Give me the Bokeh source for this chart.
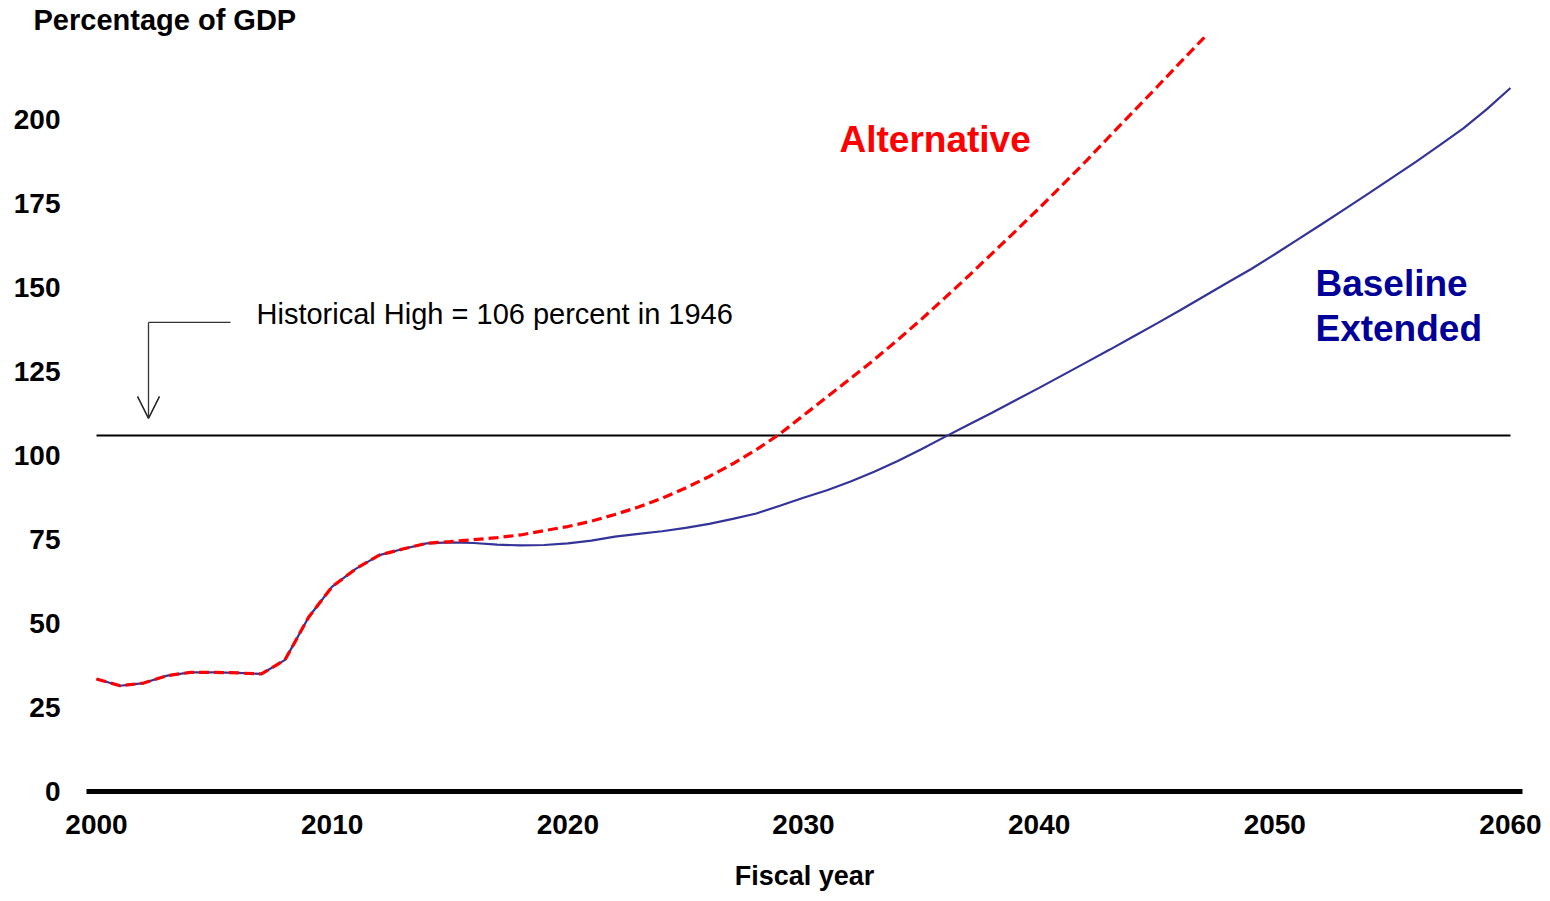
from bokeh.plotting import figure
from bokeh.models import FixedTicker, Label, Arrow, OpenHead, Range1d
from bokeh.embed import file_html
from bokeh.resources import INLINE

# ---------------- data ----------------
years = list(range(2000, 2061))
baseline = [33.5, 31.5, 32.3, 34.5, 35.5, 35.5, 35.3, 35.0, 39.2, 51.9,
            61.0, 66.3, 70.4, 72.2, 73.9, 74.2, 74.0, 73.5, 73.3, 73.4,
            73.9, 74.7, 75.9, 76.7, 77.5, 78.5, 79.7, 81.2, 82.8, 85.1,
            87.5, 89.7, 92.3, 95.2, 98.4, 101.9, 105.6, 109.2, 112.8, 116.5,
            120.2, 124.0, 127.8, 131.6, 135.5, 139.4, 143.4, 147.5, 151.6, 155.6,
            160.0, 164.5, 169.0, 173.6, 178.2, 182.9, 187.6, 192.5, 197.5, 203.2,
            209.5]
alt_years = list(range(2000, 2050))
alternative = [33.5, 31.5, 32.3, 34.5, 35.5, 35.5, 35.3, 35.0, 39.2, 51.9,
               61.0, 66.3, 70.4, 72.2, 73.9, 74.4, 75.0, 75.6, 76.4, 77.7,
               78.9, 80.5, 82.5, 84.7, 87.3, 90.4, 93.8, 97.6, 101.8, 106.5,
               112.0, 117.5, 123.0, 128.6, 134.5, 140.6, 147.0, 153.5, 160.2, 166.9,
               173.7, 180.7, 187.8, 195.2, 202.5, 209.8, 217.2, 224.5, 231.9, 239.3]
hist_high = 106
x_ticks = [2000, 2010, 2020, 2030, 2040, 2050, 2060]
y_ticks = [0, 25, 50, 75, 100, 125, 150, 175, 200]

FONT = "Liberation Sans"

# ---------------- figure ----------------
W, H = 1542, 893
TOP, BOTTOM, LEFT, RIGHT = 36, 102, 86, 20
PX_PER_UNIT = 3.358
frame_h = H - TOP - BOTTOM
p = figure(width=W, height=H, output_backend="svg", toolbar_location=None,
           x_range=Range1d(1999.576, 2060.51),
           y_range=Range1d(0, frame_h / PX_PER_UNIT),
           min_border_left=LEFT, min_border_right=RIGHT, min_border_top=TOP,
           min_border_bottom=BOTTOM, background_fill_color="white",
           border_fill_color="white")
p.outline_line_color = None
p.xgrid.visible = False
p.ygrid.visible = False

# title (y-axis unit)
p.title.text = "Percentage of GDP"
p.title.align = "left"
p.title.offset = -53
p.title.standoff = 2
p.title.text_font = FONT
p.title.text_font_style = "bold"
p.title.text_font_size = "29px"
p.title.text_color = "black"

# x axis
xa = p.xaxis[0]
xa.ticker = FixedTicker(ticks=x_ticks)
xa.axis_line_color = "black"
xa.axis_line_width = 5
xa.major_tick_line_color = None
xa.minor_tick_line_color = None
xa.major_tick_out = 0
xa.major_tick_in = 0
xa.major_label_standoff = 23
xa.major_label_text_font = FONT
xa.major_label_text_font_style = "bold"
xa.major_label_text_font_size = "28px"
xa.major_label_text_color = "black"
xa.axis_label = "Fiscal year"
xa.axis_label_standoff = 24
xa.axis_label_text_font = FONT
xa.axis_label_text_font_style = "bold"
xa.axis_label_text_font_size = "27px"
xa.axis_label_text_color = "black"

# y axis
ya = p.yaxis[0]
ya.ticker = FixedTicker(ticks=y_ticks)
ya.axis_line_color = None
ya.major_tick_line_color = None
ya.minor_tick_line_color = None
ya.major_tick_out = 0
ya.major_tick_in = 0
ya.major_label_standoff = 26
ya.major_label_text_font = FONT
ya.major_label_text_font_style = "bold"
ya.major_label_text_font_size = "28px"
ya.major_label_text_color = "black"

# historical high line
p.line([years[0], years[-1]], [hist_high, hist_high], line_color="black", line_width=2)

# series
p.line(years, baseline, line_color="#333399", line_width=2.2)
p.line(alt_years, alternative, line_color="#FF0000", line_width=3.2, line_dash="10 5")

# annotation arrow
ax0, ay0 = 2005.686, 139.7
ax1, ay1 = 2002.207, 111.1
p.add_layout(Arrow(end=None, x_start=ax0, y_start=ay0, x_end=ax1, y_end=ay0,
                   line_color="#333333", line_width=1.3))
p.add_layout(Arrow(end=OpenHead(size=22, line_width=1.5, line_color="#222222"),
                   x_start=ax1, y_start=ay0, x_end=ax1, y_end=ay1,
                   line_color="#333333", line_width=1.3))

# text labels
def add_label(x, y, text, size, color="black", style="normal", align="left"):
    p.add_layout(Label(x=x, y=y, text=text, text_font=FONT, text_font_size=size,
                       text_font_style=style, text_color=color, text_align=align,
                       text_baseline="middle"))

add_label(2006.79, 142.05, "Historical High = 106 percent in 1946", "29px")
add_label(2031.53, 194.16, "Alternative", "37px", color="#FF0000", style="bold")
add_label(2051.725, 151.28, "Baseline", "37px", color="#000099", style="bold")
add_label(2051.725, 137.9, "Extended", "37px", color="#000099", style="bold")

open("out.html", "w").write(file_html(p, INLINE))
